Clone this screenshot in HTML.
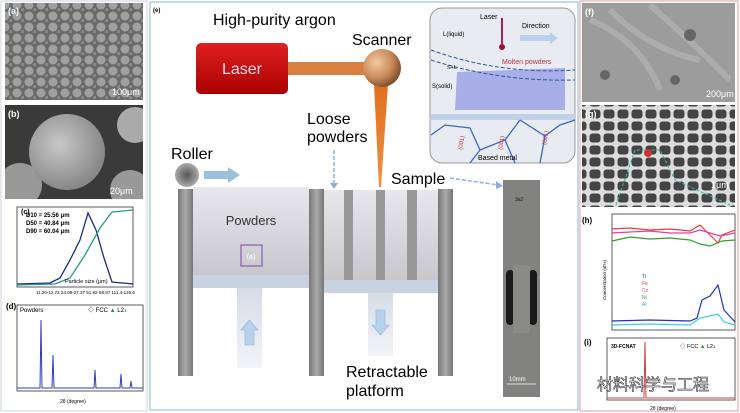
<!DOCTYPE html>
<html><head><meta charset="utf-8"><style>
html,body{margin:0;padding:0;background:#fff;}
svg{display:block;font-family:"Liberation Sans","Noto Sans CJK SC",sans-serif;}
</style></head><body>
<svg width="740" height="413" viewBox="0 0 740 413" xmlns="http://www.w3.org/2000/svg">
<defs>
<clipPath id="cb"><rect x="5" y="105" width="138" height="94"/></clipPath>
<clipPath id="cf"><rect x="582" y="3" width="153" height="99"/></clipPath>
<radialGradient id="sph" cx="0.35" cy="0.35" r="0.7"><stop offset="0" stop-color="#f3c9a0"/><stop offset="0.6" stop-color="#c98a5a"/><stop offset="1" stop-color="#7a4a2a"/></radialGradient>
<radialGradient id="rol" cx="0.5" cy="0.5" r="0.6"><stop offset="0" stop-color="#555"/><stop offset="1" stop-color="#bbb"/></radialGradient>
<linearGradient id="las" x1="0" y1="0" x2="0" y2="1"><stop offset="0" stop-color="#e02020"/><stop offset="1" stop-color="#a00"/></linearGradient>
<linearGradient id="box" x1="0" y1="0" x2="0" y2="1"><stop offset="0" stop-color="#e8e8ec"/><stop offset="1" stop-color="#c8c8cc"/></linearGradient>
<linearGradient id="pil" x1="0" y1="0" x2="1" y2="0"><stop offset="0" stop-color="#777"/><stop offset="0.5" stop-color="#aaa"/><stop offset="1" stop-color="#777"/></linearGradient>
<linearGradient id="pis" x1="0" y1="0" x2="0" y2="1"><stop offset="0" stop-color="#d6dce6"/><stop offset="1" stop-color="#f2f4f8"/></linearGradient>
<linearGradient id="beam" x1="0" y1="0" x2="0" y2="1"><stop offset="0" stop-color="#e07020"/><stop offset="1" stop-color="#f09040"/></linearGradient>
<radialGradient id="ball" cx="0.4" cy="0.4" r="0.6"><stop offset="0" stop-color="#c8c8c8"/><stop offset="1" stop-color="#888"/></radialGradient>
<pattern id="cells" width="14" height="12" patternUnits="userSpaceOnUse"><rect width="14" height="12" fill="#ddd"/><rect x="1.5" y="1.5" width="11" height="9" rx="3" fill="#444"/></pattern>
<pattern id="pw" width="12" height="11" patternUnits="userSpaceOnUse"><rect width="12" height="11" fill="#6a6a6a"/><circle cx="5" cy="5" r="4.5" fill="#a0a0a0"/><circle cx="11" cy="10" r="2" fill="#8a8a8a"/></pattern>
</defs>

<!-- LEFT COLUMN -->
<rect x="1" y="1" width="146" height="410" fill="none" stroke="#c9d6e0"/>
<rect x="5" y="3" width="138" height="97" fill="url(#pw)"/>
<text x="8" y="14" font-size="9" fill="#fff" font-weight="bold">(a)</text>
<text x="112" y="95" font-size="9" fill="#fff">100μm</text>
<g clip-path="url(#cb)">
<rect x="5" y="105" width="138" height="94" fill="#3a3a3a"/>
<circle cx="20" cy="185" r="22" fill="#999"/><circle cx="135" cy="125" r="18" fill="#aaa"/><circle cx="130" cy="190" r="20" fill="#999"/>
<circle cx="67" cy="152" r="38" fill="url(#ball)"/>
</g>
<text x="8" y="117" font-size="9" fill="#fff" font-weight="bold">(b)</text>
<text x="110" y="194" font-size="9" fill="#fff">20μm</text>
<rect x="5" y="203" width="138" height="95" fill="#fff"/>
<rect x="17" y="207" width="116" height="80" fill="none" stroke="#333" stroke-width="0.8"/>
<polyline points="17,284 50,283 60,278 70,260 80,240 88,213 96,230 104,258 112,282 133,284" fill="none" stroke="#202a80" stroke-width="1.3"/>
<polyline points="17,285 55,284 70,278 85,255 100,228 112,212 133,210" fill="none" stroke="#2a9a8a" stroke-width="1.3"/>
<text x="26" y="217" font-size="6" font-weight="bold">D10 = 25.56 μm</text>
<text x="26" y="225" font-size="6" font-weight="bold">D50 = 40.84 μm</text>
<text x="26" y="233" font-size="6" font-weight="bold">D90 = 60.04 μm</text>
<text x="21" y="214" font-size="7" font-weight="bold">(c)</text>
<text x="65" y="283" font-size="5.5">Particle size (μm)</text>
<text x="36" y="294" font-size="4.5">11.20-12.72  24.09-27.37  51.82-58.87  111.4-126.6</text>
<rect x="5" y="299" width="138" height="108" fill="#fff"/>
<rect x="17" y="305" width="126" height="86" fill="none" stroke="#333" stroke-width="0.8"/>
<polyline points="17,388 40,388 41,320 42,388 52,388 53,355 54,388 94,388 95,370 96,388 120,388 121,374 122,388 130,388 131,381 132,388 143,388" fill="none" stroke="#3040b0" stroke-width="1"/>
<text x="6" y="309" font-size="8" font-weight="bold">(d)</text>
<text x="20" y="312" font-size="6">Powders</text>
<text x="88" y="312" font-size="6">◇ FCC <tspan fill="#2a8a2a">▲</tspan> L2<tspan font-size="4">1</tspan></text>
<text x="60" y="403" font-size="5">2θ (degree)</text>

<!-- CENTER PANEL -->
<rect x="150" y="2" width="428" height="408" fill="#fff" stroke="#8ab4cc"/>
<text x="153" y="12" font-size="6" font-weight="bold">(e)</text>
<text x="213" y="25" font-size="16">High-purity argon</text>
<rect x="288" y="62" width="78" height="13" fill="#d88040"/>
<rect x="196" y="43" width="92" height="51" rx="5" fill="url(#las)"/>
<text x="242" y="74" font-size="16" fill="#fde" text-anchor="middle">Laser</text>
<polygon points="374,84 388,84 381,187 379,187" fill="url(#beam)"/>
<circle cx="382" cy="68" r="19" fill="url(#sph)"/>
<text x="352" y="45" font-size="16">Scanner</text>
<text x="307" y="124" font-size="16">Loose</text>
<text x="307" y="142" font-size="16">powders</text>
<line x1="334" y1="150" x2="334" y2="184" stroke="#8ab0d8" stroke-width="1.5" stroke-dasharray="4,2"/>
<polygon points="330,183 338,183 334,189" fill="#8ab0d8"/>
<text x="171" y="159" font-size="16">Roller</text>
<circle cx="187" cy="175" r="12" fill="url(#rol)"/>
<polygon points="204,171 228,171 228,167 240,175 228,183 228,179 204,179" fill="#9ac0e0"/>
<rect x="193" y="187" width="116" height="88" fill="url(#box)"/>
<text x="251" y="225" font-size="13" text-anchor="middle" fill="#333">Powders</text>
<rect x="241" y="245" width="21" height="21" fill="none" stroke="#8a5ab0" stroke-width="1.2"/>
<text x="251" y="259" font-size="7" text-anchor="middle" fill="#fff">(a)</text>
<rect x="193" y="275" width="116" height="13" fill="#c8d2e0"/>
<rect x="237" y="288" width="25" height="80" fill="url(#pis)"/>
<polygon points="245,345 245,330 241,330 249.5,320 258,330 254,330 254,345" fill="#b8d2ee" stroke="#8ab0d8" stroke-width="0.6"/>
<rect x="324" y="190" width="114" height="90" fill="url(#box)"/>
<rect x="344" y="190" width="9" height="90" fill="#999"/>
<rect x="376" y="190" width="9" height="90" fill="#999"/>
<rect x="407" y="190" width="10" height="90" fill="#999"/>
<rect x="324" y="280" width="114" height="13" fill="#c8d2e0"/>
<rect x="368" y="293" width="25" height="63" fill="url(#pis)"/>
<polygon points="376,310 385,310 385,325 389,325 380.5,335 372,325 376,325" fill="#b8d2ee" stroke="#8ab0d8" stroke-width="0.6"/>
<rect x="178" y="189" width="15" height="187" fill="url(#pil)"/>
<rect x="309" y="189" width="15" height="187" fill="url(#pil)"/>
<rect x="438" y="189" width="15" height="187" fill="url(#pil)"/>
<text x="346" y="377" font-size="16">Retractable</text>
<text x="346" y="396" font-size="16">platform</text>
<text x="391" y="184" font-size="16">Sample</text>
<line x1="450" y1="178" x2="498" y2="185" stroke="#8ab0d8" stroke-width="1.5" stroke-dasharray="4,2"/>
<polygon points="496,181 503,186 496,189" fill="#8ab0d8"/>
<rect x="503" y="180" width="37" height="217" fill="#828280"/>
<rect x="506" y="270" width="8" height="55" rx="4" fill="#1a1a1a"/>
<rect x="529" y="270" width="8" height="55" rx="4" fill="#1a1a1a"/>
<rect x="513" y="265" width="17" height="68" fill="#8a8a88"/>
<text x="515" y="201" font-size="5" fill="#222">3a2</text>
<text x="509" y="381" font-size="6" fill="#fff">10mm</text>
<line x1="507" y1="384" x2="536" y2="384" stroke="#fff" stroke-width="0.8"/>
<rect x="430" y="8" width="145" height="155" rx="12" fill="#e8ecf2" stroke="#999"/>
<polygon points="457,72 565,68 565,110 455,110" fill="#a8aee8"/>
<path d="M431,50 Q500,75 575,70" fill="none" stroke="#2a5aa0" stroke-width="1" stroke-dasharray="4,2"/>
<path d="M431,60 Q500,82 575,80" fill="none" stroke="#2a5aa0" stroke-width="1" stroke-dasharray="4,2"/>
<rect x="431" y="114" width="144" height="6" fill="#c0d0e8"/>
<path d="M431,135 L445,125 L470,128 L480,150 L470,163 M480,150 L505,140 L520,120 M505,140 L515,163 M520,120 L545,136 L560,125 L575,120 M545,136 L540,163" fill="none" stroke="#3a6ac0" stroke-width="1.3"/>
<text x="480" y="19" font-size="7">Laser</text>
<rect x="501" y="18" width="2" height="26" fill="#a02060"/>
<circle cx="502" cy="47" r="3" fill="#a01030"/>
<text x="522" y="28" font-size="7">Direction</text>
<polygon points="520,35 550,35 550,32 558,38 550,44 550,41 520,41" fill="#b8d0ee"/>
<text x="443" y="36" font-size="6">L(liquid)</text>
<text x="502" y="64" font-size="7" fill="#c03040">Molten powders</text>
<text x="447" y="69" font-size="5.5">S+L</text>
<text x="432" y="88" font-size="6">S(solid)</text>
<text x="478" y="160" font-size="7">Based metal</text>
<text x="462" y="150" font-size="6" fill="#c03040" transform="rotate(-80 462 150)">(001)</text>
<text x="502" y="150" font-size="6" fill="#c03040" transform="rotate(-80 502 150)">(001)</text>
<text x="546" y="145" font-size="6" fill="#c03040" transform="rotate(-80 546 145)">(001)</text>

<!-- RIGHT COLUMN -->
<rect x="580" y="1" width="158" height="410" fill="none" stroke="#d8a0a0"/>
<g clip-path="url(#cf)">
<rect x="582" y="3" width="153" height="99" fill="#9c9c9c"/>
<path d="M590,20 Q640,40 660,90 M610,10 Q650,50 700,60 M650,5 Q690,40 730,80" stroke="#b8b8b8" stroke-width="6" fill="none" opacity="0.6"/>
<circle cx="690" cy="35" r="6" fill="#666"/><circle cx="605" cy="75" r="5" fill="#666"/><circle cx="675" cy="80" r="5" fill="#666"/>
</g>
<text x="585" y="15" font-size="9" fill="#fff" font-weight="bold">(f)</text>
<text x="706" y="97" font-size="9" fill="#fff">200μm</text>
<rect x="582" y="105" width="153" height="102" fill="url(#cells)"/>
<polyline points="616,205 635,150 660,150 675,180 730,205" fill="none" stroke="#2ac0b0" stroke-width="1" stroke-dasharray="3,2"/>
<circle cx="648" cy="153" r="4" fill="#d03030"/>
<text x="585" y="117" font-size="9" fill="#fff" font-weight="bold">(g)</text>
<text x="711" y="188" font-size="9" fill="#fff">1μm</text>
<rect x="582" y="210" width="153" height="124" fill="#fff"/>
<rect x="612" y="214" width="123" height="116" fill="none" stroke="#333" stroke-width="0.8"/>
<polyline points="612,229 630,228 650,230 670,229 690,231 700,225 710,235 718,243 722,235 735,230" fill="none" stroke="#e04040" stroke-width="1.2"/>
<polyline points="612,233 630,232 650,231 670,233 690,233 700,230 710,233 720,236 735,233" fill="none" stroke="#e040a0" stroke-width="1.2"/>
<polyline points="612,241 630,237 650,239 670,238 690,240 700,244 710,246 722,241 735,240" fill="none" stroke="#30a030" stroke-width="1.2"/>
<polyline points="612,321 650,320 690,321 697,318 702,300 710,296 718,285 724,310 735,322" fill="none" stroke="#2030c0" stroke-width="1.2"/>
<polyline points="612,325 650,324 690,325 700,318 718,314 724,322 735,325" fill="none" stroke="#40d0e0" stroke-width="1.2"/>
<text x="582" y="223" font-size="8" font-weight="bold">(h)</text>
<g font-size="5"><text x="642" y="278" fill="#2030c0">Ti</text><text x="642" y="285" fill="#e04040">Fe</text><text x="642" y="292" fill="#e040a0">Co</text><text x="642" y="299" fill="#30a030">Ni</text><text x="642" y="306" fill="#30b0c0">Al</text></g>
<text x="606" y="300" font-size="4.5" transform="rotate(-90 606 300)">Concentration (at%)</text>
<rect x="582" y="335" width="153" height="72" fill="#fff"/>
<rect x="607" y="338" width="128" height="62" fill="none" stroke="#333" stroke-width="0.8"/>
<polyline points="607,398 644,398 645,342 646,398 735,398" fill="none" stroke="#d04040" stroke-width="1"/>
<text x="584" y="345" font-size="8" font-weight="bold">(i)</text>
<text x="611" y="348" font-size="5" font-weight="bold">3D-FCNAT</text>
<text x="680" y="348" font-size="5.5">◇ FCC <tspan fill="#2a8a2a">▲</tspan> L2<tspan font-size="4">1</tspan></text>
<text x="650" y="410" font-size="5">2θ (degree)</text>
<text x="597" y="390" font-size="16" fill="#fff" stroke="#333" stroke-width="0.6">材料科学与工程</text>
</svg>
</body></html>
